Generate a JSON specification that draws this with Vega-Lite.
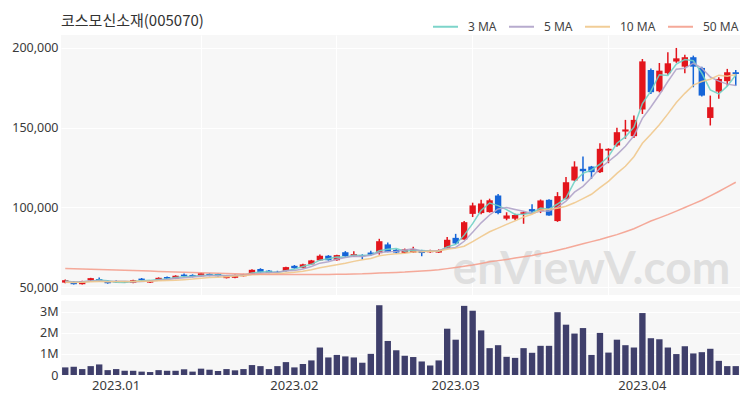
{
  "$schema": "https://vega.github.io/schema/vega-lite/v6.json",
  "padding": {"top": 13, "left": 5, "right": 5, "bottom": 5},
  "background": "white",
  "spacing": 6,
  "config": {
    "font": "Noto Sans",
    "view": {"stroke": null, "fill": "#f7f7f7"},
    "axis": {"labelFont": "Noto Sans", "labelColor": "#3a3a3a", "labelFontSize": 12.5, "gridColor": "#ffffff", "gridWidth": 1, "gridOpacity": 1, "domain": false, "ticks": false, "title": null}
  },
  "datasets": {
    "px": [
      {"date":"2022-12-22","open":53000,"high":55000,"low":52600,"close":54500,"volume":360000,"ma3":54000,"ma5":53500,"ma10":53230,"ma50":61800},
      {"date":"2022-12-23","open":53300,"high":54000,"low":51800,"close":52000,"volume":390000,"ma3":53330,"ma5":53400,"ma10":53130,"ma50":61640},
      {"date":"2022-12-26","open":52000,"high":54200,"low":51800,"close":53900,"volume":280000,"ma3":53470,"ma5":53580,"ma10":53270,"ma50":61480},
      {"date":"2022-12-27","open":54400,"high":56000,"low":54000,"close":55800,"volume":420000,"ma3":53900,"ma5":53940,"ma10":53570,"ma50":61320},
      {"date":"2022-12-28","open":55200,"high":56200,"low":53500,"close":54000,"volume":500000,"ma3":54570,"ma5":54040,"ma10":53620,"ma50":61160},
      {"date":"2022-12-29","open":53900,"high":54300,"low":52300,"close":52600,"volume":230000,"ma3":54130,"ma5":53660,"ma10":53580,"ma50":61000},
      {"date":"2023-01-02","open":54000,"high":54400,"low":52800,"close":53200,"volume":280000,"ma3":53270,"ma5":53900,"ma10":53650,"ma50":60840},
      {"date":"2023-01-03","open":53300,"high":54000,"low":52800,"close":53500,"volume":200000,"ma3":53100,"ma5":53820,"ma10":53700,"ma50":60680},
      {"date":"2023-01-04","open":52900,"high":54800,"low":52600,"close":54500,"volume":200000,"ma3":53730,"ma5":53560,"ma10":53750,"ma50":60520},
      {"date":"2023-01-05","open":55500,"high":55900,"low":54200,"close":54500,"volume":160000,"ma3":54170,"ma5":53660,"ma10":53850,"ma50":60360},
      {"date":"2023-01-06","open":53000,"high":54600,"low":52800,"close":54200,"volume":140000,"ma3":54400,"ma5":53980,"ma10":53820,"ma50":60200},
      {"date":"2023-01-09","open":54600,"high":56300,"low":54300,"close":56000,"volume":230000,"ma3":54900,"ma5":54540,"ma10":54220,"ma50":60020},
      {"date":"2023-01-10","open":56500,"high":56900,"low":55200,"close":55500,"volume":200000,"ma3":55230,"ma5":54940,"ma10":54380,"ma50":59840},
      {"date":"2023-01-11","open":55400,"high":57600,"low":55200,"close":57300,"volume":200000,"ma3":56270,"ma5":55500,"ma10":54530,"ma50":59660},
      {"date":"2023-01-12","open":58000,"high":58700,"low":56700,"close":57000,"volume":270000,"ma3":56600,"ma5":56000,"ma10":54830,"ma50":59480},
      {"date":"2023-01-13","open":57800,"high":58200,"low":56300,"close":56500,"volume":160000,"ma3":56930,"ma5":56460,"ma10":55220,"ma50":59300},
      {"date":"2023-01-16","open":57000,"high":59200,"low":56800,"close":58900,"volume":300000,"ma3":57470,"ma5":57040,"ma10":55790,"ma50":59140},
      {"date":"2023-01-17","open":58500,"high":58900,"low":57000,"close":57200,"volume":250000,"ma3":57530,"ma5":57380,"ma10":56160,"ma50":58980},
      {"date":"2023-01-18","open":58400,"high":58800,"low":56800,"close":57000,"volume":190000,"ma3":57700,"ma5":57320,"ma10":56410,"ma50":58820},
      {"date":"2023-01-19","open":55800,"high":57800,"low":55600,"close":57500,"volume":280000,"ma3":57230,"ma5":57420,"ma10":56710,"ma50":58660},
      {"date":"2023-01-20","open":56000,"high":58000,"low":55800,"close":57800,"volume":220000,"ma3":57430,"ma5":57680,"ma10":57070,"ma50":58500},
      {"date":"2023-01-25","open":57000,"high":58500,"low":56800,"close":58200,"volume":280000,"ma3":57830,"ma5":57540,"ma10":57290,"ma50":58400},
      {"date":"2023-01-26","open":58500,"high":61300,"low":58300,"close":61000,"volume":470000,"ma3":59000,"ma5":58300,"ma10":57840,"ma50":58300},
      {"date":"2023-01-27","open":61500,"high":62000,"low":59200,"close":59500,"volume":420000,"ma3":59570,"ma5":58800,"ma10":58060,"ma50":58200},
      {"date":"2023-01-30","open":60500,"high":60900,"low":58800,"close":59000,"volume":280000,"ma3":59830,"ma5":59100,"ma10":58260,"ma50":58100},
      {"date":"2023-01-31","open":59800,"high":60400,"low":59000,"close":59600,"volume":420000,"ma3":59370,"ma5":59460,"ma10":58570,"ma50":58000},
      {"date":"2023-02-01","open":60200,"high":63000,"low":60000,"close":62700,"volume":610000,"ma3":60430,"ma5":60360,"ma10":58950,"ma50":58000},
      {"date":"2023-02-02","open":63500,"high":64000,"low":61700,"close":62000,"volume":360000,"ma3":61430,"ma5":60560,"ma10":59430,"ma50":58000},
      {"date":"2023-02-03","open":62300,"high":64800,"low":62000,"close":64400,"volume":520000,"ma3":63030,"ma5":61540,"ma10":60170,"ma50":58000},
      {"date":"2023-02-06","open":64400,"high":67200,"low":64000,"close":66900,"volume":690000,"ma3":64430,"ma5":63120,"ma10":61110,"ma50":58000},
      {"date":"2023-02-07","open":66900,"high":70600,"low":66500,"close":69800,"volume":1300000,"ma3":67030,"ma5":65160,"ma10":62310,"ma50":58000},
      {"date":"2023-02-08","open":69800,"high":70200,"low":66800,"close":67000,"volume":830000,"ma3":67900,"ma5":66020,"ma10":63190,"ma50":58100},
      {"date":"2023-02-09","open":67000,"high":70500,"low":66700,"close":70200,"volume":950000,"ma3":69000,"ma5":67660,"ma10":64110,"ma50":58200},
      {"date":"2023-02-10","open":72000,"high":72700,"low":69200,"close":69500,"volume":880000,"ma3":68900,"ma5":68680,"ma10":65110,"ma50":58300},
      {"date":"2023-02-13","open":69400,"high":72600,"low":69000,"close":70800,"volume":830000,"ma3":70170,"ma5":69460,"ma10":66290,"ma50":58400},
      {"date":"2023-02-14","open":70300,"high":70700,"low":67500,"close":69500,"volume":580000,"ma3":69930,"ma5":69400,"ma10":67280,"ma50":58500},
      {"date":"2023-02-15","open":71800,"high":73000,"low":70000,"close":70400,"volume":1000000,"ma3":70230,"ma5":70080,"ma10":68050,"ma50":58720},
      {"date":"2023-02-16","open":71400,"high":80400,"low":70500,"close":78900,"volume":3300000,"ma3":72930,"ma5":71820,"ma10":69740,"ma50":58940},
      {"date":"2023-02-17","open":76900,"high":78100,"low":72000,"close":72100,"volume":1610000,"ma3":73800,"ma5":72340,"ma10":70510,"ma50":59160},
      {"date":"2023-02-20","open":73500,"high":74000,"low":71300,"close":71800,"volume":1170000,"ma3":74270,"ma5":72540,"ma10":71000,"ma50":59380},
      {"date":"2023-02-21","open":71600,"high":74300,"low":71300,"close":73800,"volume":910000,"ma3":72570,"ma5":73400,"ma10":71400,"ma50":59600},
      {"date":"2023-02-22","open":71800,"high":75500,"low":71600,"close":74000,"volume":850000,"ma3":73200,"ma5":74120,"ma10":72100,"ma50":59950},
      {"date":"2023-02-23","open":73000,"high":73500,"low":69500,"close":71500,"volume":640000,"ma3":73100,"ma5":72640,"ma10":72230,"ma50":60300},
      {"date":"2023-02-24","open":72000,"high":73500,"low":71700,"close":73000,"volume":450000,"ma3":72830,"ma5":72820,"ma10":72580,"ma50":60650},
      {"date":"2023-02-27","open":71800,"high":73800,"low":71600,"close":73300,"volume":690000,"ma3":72600,"ma5":73120,"ma10":72830,"ma50":61000},
      {"date":"2023-02-28","open":74800,"high":81500,"low":74500,"close":79800,"volume":2190000,"ma3":75370,"ma5":74320,"ma10":73860,"ma50":61750},
      {"date":"2023-03-02","open":81000,"high":83500,"low":77000,"close":77500,"volume":1670000,"ma3":76870,"ma5":75020,"ma10":74570,"ma50":62500},
      {"date":"2023-03-03","open":80000,"high":91500,"low":79800,"close":90800,"volume":3270000,"ma3":82700,"ma5":78880,"ma10":75760,"ma50":63250},
      {"date":"2023-03-06","open":96000,"high":103000,"low":94000,"close":101300,"volume":3040000,"ma3":89870,"ma5":84540,"ma10":78680,"ma50":64000},
      {"date":"2023-03-07","open":96500,"high":104800,"low":95800,"close":102500,"volume":2110000,"ma3":98200,"ma5":90380,"ma10":81750,"ma50":65000},
      {"date":"2023-03-08","open":97100,"high":105500,"low":96800,"close":104500,"volume":1270000,"ma3":102770,"ma5":95320,"ma10":84820,"ma50":66000},
      {"date":"2023-03-09","open":107500,"high":108500,"low":95800,"close":96500,"volume":1410000,"ma3":101170,"ma5":99120,"ma10":87070,"ma50":66750},
      {"date":"2023-03-10","open":93000,"high":97000,"low":92000,"close":95000,"volume":860000,"ma3":98670,"ma5":99960,"ma10":89420,"ma50":67500},
      {"date":"2023-03-13","open":93000,"high":96000,"low":92000,"close":95300,"volume":810000,"ma3":95600,"ma5":98760,"ma10":91650,"ma50":68330},
      {"date":"2023-03-14","open":96000,"high":97500,"low":89800,"close":97000,"volume":1270000,"ma3":95770,"ma5":97660,"ma10":94020,"ma50":69170},
      {"date":"2023-03-15","open":99000,"high":102000,"low":96500,"close":97500,"volume":1050000,"ma3":96600,"ma5":96260,"ma10":95790,"ma50":70000},
      {"date":"2023-03-16","open":97700,"high":105000,"low":96500,"close":104400,"volume":1380000,"ma3":99630,"ma5":97840,"ma10":98480,"ma50":71000},
      {"date":"2023-03-17","open":104800,"high":105200,"low":94800,"close":95000,"volume":1380000,"ma3":98970,"ma5":97840,"ma10":98900,"ma50":72000},
      {"date":"2023-03-20","open":91500,"high":109600,"low":91000,"close":107100,"volume":2970000,"ma3":102170,"ma5":100200,"ma10":99480,"ma50":73250},
      {"date":"2023-03-21","open":105400,"high":119000,"low":105000,"close":115800,"volume":2380000,"ma3":105970,"ma5":103960,"ma10":100810,"ma50":74500},
      {"date":"2023-03-22","open":116900,"high":128900,"low":116500,"close":125600,"volume":1960000,"ma3":116170,"ma5":109580,"ma10":102920,"ma50":75900},
      {"date":"2023-03-23","open":124200,"high":131900,"low":116400,"close":122700,"volume":2220000,"ma3":121370,"ma5":113240,"ma10":105540,"ma50":77300},
      {"date":"2023-03-24","open":125600,"high":126000,"low":117900,"close":122100,"volume":950000,"ma3":123470,"ma5":118660,"ma10":108250,"ma50":78650},
      {"date":"2023-03-27","open":122100,"high":140200,"low":121500,"close":136700,"volume":1990000,"ma3":127170,"ma5":124580,"ma10":112390,"ma50":80000},
      {"date":"2023-03-28","open":135600,"high":137000,"low":127700,"close":136700,"volume":1060000,"ma3":131830,"ma5":128760,"ma10":116360,"ma50":81500},
      {"date":"2023-03-29","open":138800,"high":149800,"low":138000,"close":147100,"volume":1670000,"ma3":140170,"ma5":133060,"ma10":121320,"ma50":83000},
      {"date":"2023-03-30","open":147500,"high":154800,"low":143000,"close":148800,"volume":1410000,"ma3":144200,"ma5":138280,"ma10":125760,"ma50":84850},
      {"date":"2023-03-31","open":144600,"high":157500,"low":143500,"close":154800,"volume":1300000,"ma3":150230,"ma5":144820,"ma10":131740,"ma50":86700},
      {"date":"2023-04-03","open":161300,"high":192900,"low":158500,"close":191400,"volume":2930000,"ma3":165000,"ma5":155760,"ma10":140170,"ma50":89100},
      {"date":"2023-04-04","open":186000,"high":187000,"low":171000,"close":172100,"volume":1740000,"ma3":172770,"ma5":162840,"ma10":145800,"ma50":91500},
      {"date":"2023-04-05","open":172700,"high":190400,"low":172000,"close":185600,"volume":1690000,"ma3":183030,"ma5":170540,"ma10":151800,"ma50":93500},
      {"date":"2023-04-06","open":184000,"high":197100,"low":183000,"close":190200,"volume":1300000,"ma3":182630,"ma5":178820,"ma10":158550,"ma50":95500},
      {"date":"2023-04-07","open":191300,"high":199800,"low":190500,"close":193300,"volume":990000,"ma3":189700,"ma5":186520,"ma10":165670,"ma50":97750},
      {"date":"2023-04-10","open":188100,"high":195600,"low":184000,"close":194000,"volume":1360000,"ma3":192500,"ma5":187040,"ma10":171400,"ma50":100000},
      {"date":"2023-04-11","open":194000,"high":195000,"low":175200,"close":188100,"volume":1020000,"ma3":191800,"ma5":190240,"ma10":176540,"ma50":102250},
      {"date":"2023-04-12","open":187300,"high":188000,"low":169500,"close":170000,"volume":1080000,"ma3":184030,"ma5":187120,"ma10":178830,"ma50":104500},
      {"date":"2023-04-13","open":156000,"high":170000,"low":151300,"close":162700,"volume":1240000,"ma3":173600,"ma5":181620,"ma10":180220,"ma50":107250},
      {"date":"2023-04-14","open":172500,"high":181400,"low":168000,"close":180400,"volume":670000,"ma3":171030,"ma5":179040,"ma10":182780,"ma50":110000},
      {"date":"2023-04-17","open":179000,"high":186700,"low":176200,"close":184600,"volume":420000,"ma3":175900,"ma5":177160,"ma10":182100,"ma50":112900},
      {"date":"2023-04-18","open":184600,"high":186000,"low":176200,"close":183500,"volume":420000,"ma3":182830,"ma5":176240,"ma10":183240,"ma50":115800}
    ]
  },
  "vconcat": [
    {
      "width": 679,
      "height": 260,
      "title": {"text": "코스모신소재(005070)", "anchor": "start", "frame": "group", "font": "Noto Sans CJK KR", "fontSize": 15, "fontWeight": "normal", "color": "#333333", "offset": 6},
      "data": {"name": "px"},
      "encoding": {
        "x": {"field": "date", "type": "ordinal", "scale": {"paddingInner": 0.25, "paddingOuter": 0.125},
              "axis": {"labels": false, "grid": true, "bandPosition": 0.5, "values": ["2023-01-16", "2023-02-09", "2023-03-06", "2023-03-28"]}}
      },
      "layer": [
        {
          "data": {"values": [{"mark": "enViewV.com"}]},
          "mark": {"type": "text", "font": "Lato", "fontSize": 46, "fontWeight": "bold", "color": "#dfdfdf", "align": "center", "baseline": "middle"},
          "encoding": {
            "x": {"datum": "2023-03-24", "type": "ordinal"},
            "y": {"datum": 61000, "type": "quantitative"},
            "text": {"field": "mark"}
          }
        },
        {
          "mark": {"type": "rule", "strokeWidth": 1.5},
          "encoding": {
            "y": {"field": "low", "type": "quantitative", "scale": {"domain": [45250, 207900], "nice": false, "zero": false},
                  "axis": {"values": [50000, 100000, 150000, 200000], "labelExpr": "format(datum.value, ',')", "grid": true, "minExtent": 56, "maxExtent": 56, "labelPadding": 3}},
            "y2": {"field": "high"},
            "color": {"condition": {"test": "datum.close > datum.open", "value": "#e3151c"}, "value": "#1565d8"}
          }
        },
        {
          "mark": {"type": "bar"},
          "encoding": {
            "y": {"field": "open", "type": "quantitative"},
            "y2": {"field": "close"},
            "color": {"condition": {"test": "datum.close > datum.open", "value": "#e3151c"}, "value": "#1565d8"}
          }
        },
        {
          "transform": [{"fold": ["ma3", "ma5", "ma10", "ma50"], "as": ["ma", "value"]}],
          "mark": {"type": "line", "strokeWidth": 1.5, "opacity": 0.9},
          "encoding": {
            "y": {"field": "value", "type": "quantitative"},
            "color": {"field": "ma", "type": "nominal",
                      "scale": {"domain": ["ma3", "ma5", "ma10", "ma50"], "range": ["#6fd0c5", "#b0a3c9", "#f0c88c", "#f4a08e"]},
                      "legend": {"orient": "none", "legendX": 371, "legendY": -22, "direction": "horizontal", "title": null,
                                 "symbolType": "stroke", "symbolSize": 625, "symbolStrokeWidth": 2,
                                 "labelFont": "Noto Sans", "labelFontSize": 12, "labelColor": "#444444",
                                 "labelOffset": 9, "columnPadding": 8,
                                 "labelExpr": "{'ma3': '3 MA', 'ma5': '5 MA', 'ma10': '10 MA', 'ma50': '50 MA'}[datum.label]"}}
          }
        }
      ]
    },
    {
      "width": 679,
      "height": 74,
      "data": {"name": "px"},
      "mark": {"type": "bar", "color": "#3f3f6b"},
      "encoding": {
        "x": {"field": "date", "type": "ordinal", "scale": {"paddingInner": 0.25, "paddingOuter": 0.125},
              "axis": {"values": ["2023-01-02", "2023-02-02", "2023-03-02", "2023-04-03"], "labelAngle": 0, "labelAlign": "center", "labelBaseline": "top", "labelPadding": 4, "labelFontSize": 13, "grid": false,
                       "labelExpr": "slice(datum.value, 0, 4) + '.' + slice(datum.value, 5, 7)"}},
        "y": {"field": "volume", "type": "quantitative", "scale": {"domain": [0, 3500000], "nice": false},
              "axis": {"values": [0, 1000000, 2000000, 3000000], "grid": true, "minExtent": 56, "maxExtent": 56, "labelPadding": 3,
                       "labelExpr": "datum.value == 0 ? '0' : format(datum.value / 1000000, 'd') + 'M'"}}
      }
    }
  ]
}
